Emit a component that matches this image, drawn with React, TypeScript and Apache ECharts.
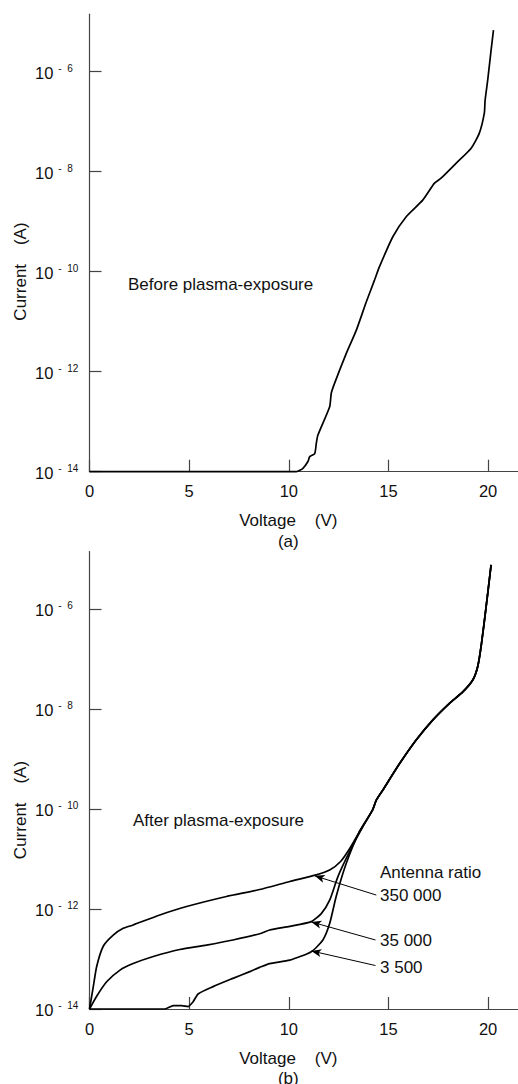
import React, { useEffect, useRef } from 'react';
import * as echarts from 'echarts';

const FONT = '"Liberation Sans", Arial, sans-serif';

// tick positions
const xTicks = [0, 5, 10, 15, 20];
const yTickExponents = [-14, -12, -10, -8, -6];

// (a) Before plasma-exposure : voltage (V) and current (A)
const voltageBefore = [0, 10.38, 10.71, 10.96, 11.05, 11.3, 11.38, 11.46, 12.05, 12.13, 12.3, 12.88, 13.39, 13.89, 14.3, 14.55, 15.22, 15.89, 16.72, 17.31, 17.64, 18.4, 19.15, 19.56, 19.81, 19.85, 19.98, 20.15, 20.27];
const currentBefore = [1e-14, 1e-14, 1.17e-14, 1.6e-14, 2.0e-14, 2.3e-14, 3.7e-14, 5.4e-14, 2.0e-13, 3.7e-13, 5.9e-13, 2.3e-12, 6.8e-12, 2.5e-11, 6.8e-11, 1.26e-10, 5.0e-10, 1.26e-9, 2.7e-9, 5.9e-9, 7.4e-9, 1.48e-8, 2.95e-8, 5.9e-8, 1.48e-7, 2.7e-7, 6.8e-7, 2.7e-6, 6.8e-6];

// (b) After plasma-exposure : common high-field branch
const voltageCommon = [14.2, 14.39, 14.72, 15.56, 16.39, 17.22, 18.06, 18.73, 19.23, 19.48, 19.65, 19.9, 20.15];
const currentCommon = [9.5e-11, 1.5e-10, 2.4e-10, 8.1e-10, 2.4e-9, 6.0e-9, 1.3e-8, 2.2e-8, 3.8e-8, 7.1e-8, 1.8e-7, 1.1e-6, 7.6e-6];

// antenna ratio 350 000
const voltage350k = [0, 0.19, 0.36, 0.69, 1.19, 1.69, 2.19, 3.53, 4.87, 6.87, 8.54, 10.05, 11.38, 12.05, 12.6, 13.05, 13.55];
const current350k = [1e-14, 2.8e-14, 7.1e-14, 1.8e-13, 3.0e-13, 4.1e-13, 4.8e-13, 7.6e-13, 1.12e-12, 1.78e-12, 2.45e-12, 3.55e-12, 4.8e-12, 6.0e-12, 8.9e-12, 1.6e-11, 3.5e-11];

// antenna ratio 35 000
const voltage35k = [0, 0.36, 0.86, 1.53, 2.19, 3.2, 4.53, 5.87, 7.2, 8.54, 9.04, 10.05, 11.13, 11.63, 12.05, 12.47, 13.05, 13.72];
const current35k = [1e-14, 1.8e-14, 3.5e-14, 6.0e-14, 8.1e-14, 1.12e-13, 1.55e-13, 1.9e-13, 2.4e-13, 3.2e-13, 3.8e-13, 4.5e-13, 5.6e-13, 8.1e-13, 1.5e-12, 4.5e-12, 1.4e-11, 4.5e-11];

// antenna ratio 3 500
const voltage3k5 = [0, 3.78, 4.2, 4.62, 4.95, 5.2, 5.45, 6.2, 7.2, 8.04, 8.54, 9.04, 10.05, 11.13, 11.71, 12.05, 12.38, 12.88, 13.55];
const current3k5 = [1e-14, 1e-14, 1.17e-14, 1.17e-14, 1.12e-14, 1.4e-14, 2.0e-14, 2.8e-14, 4.1e-14, 5.6e-14, 6.8e-14, 8.1e-14, 9.5e-14, 1.4e-13, 2.4e-13, 5.1e-13, 1.8e-12, 8.1e-12, 3.6e-11];

// arrows (label -> curve), voltage and current of both ends
const arrowFromV = [14.39, 14.35, 14.35];
const arrowFromI = [1.9e-12, 2.4e-13, 7.4e-14];
const arrowToV = [11.3, 11.13, 11.13];
const arrowToI = [4.6e-12, 5.5e-13, 1.45e-13];

const toPoints = (v: number[], c: number[]) => v.map((x, i) => [x, Math.log10(c[i])]);

const lineSeries = (name: string, idx: number, v: number[], c: number[], extra: any = {}) => ({
  name,
  type: 'line',
  xAxisIndex: idx,
  yAxisIndex: idx,
  data: toPoints(v, c),
  showSymbol: false,
  symbol: 'none',
  smooth: 0.2,
  clip: false,
  silent: true,
  lineStyle: { color: '#000', width: 1.7 },
  ...extra,
});

const axisColor = '#444';

const makeX = (gridIndex: number) => ({
  gridIndex,
  type: 'value',
  min: 0,
  max: 21.5,
  axisLine: { show: true, onZero: false, lineStyle: { color: axisColor, width: 1.2 } },
  axisTick: { show: true, inside: true, length: 12, customValues: xTicks, lineStyle: { color: axisColor, width: 1.2 } },
  axisLabel: { customValues: xTicks, margin: 11, fontSize: 16.5, fontFamily: FONT, color: '#111' },
  splitLine: { show: false },
});

const makeY = (gridIndex: number) => ({
  gridIndex,
  type: 'value',
  min: -14,
  max: -4.85,
  axisLine: { show: true, onZero: false, lineStyle: { color: axisColor, width: 1.2 } },
  axisTick: { show: true, inside: true, length: 12, customValues: yTickExponents, lineStyle: { color: axisColor, width: 1.2 } },
  axisLabel: {
    customValues: yTickExponents,
    formatter: (v: number) => `{a|10}{b|-  ${Math.round(-v)}}`,
    align: 'left',
    margin: 54.5,
    rich: {
      a: { fontSize: 16.5, fontFamily: FONT, color: '#111', lineHeight: 17, padding: [2, 0, 0, 0] },
      b: { fontSize: 10, fontFamily: FONT, color: '#111', lineHeight: 10, verticalAlign: 'top', padding: [0, 0, 0, 5] },
    },
  },
  splitLine: { show: false },
});

const txt = (text: string, x: number, y: number, align = 'left', extra: any = {}) => ({
  type: 'text',
  x,
  y,
  silent: true,
  ...extra,
  style: { text, font: `17px ${FONT}`, fill: '#111', align, verticalAlign: 'middle' },
});

export default function App() {
  const ref = useRef<HTMLDivElement>(null);
  useEffect(() => {
    if (!ref.current) return;
    const chart = echarts.init(ref.current, null, { renderer: 'svg' });
    const arrowData = arrowFromV.map((v, i) => [
      { coord: [v, Math.log10(arrowFromI[i])], symbol: 'none' },
      { coord: [arrowToV[i], Math.log10(arrowToI[i])], symbol: 'arrow', symbolSize: [6, 10] },
    ]);
    chart.setOption({
      animation: false,
      grid: [
        { left: 89.5, top: 14.2, width: 429, height: 457.5 },
        { left: 89.5, top: 551.5, width: 429, height: 457.5 },
      ],
      xAxis: [makeX(0), makeX(1)],
      yAxis: [makeY(0), makeY(1)],
      series: [
        lineSeries('Before plasma-exposure', 0, voltageBefore, currentBefore),
        lineSeries('350 000', 1, voltage350k.concat(voltageCommon), current350k.concat(currentCommon), {
          markLine: {
            silent: true,
            animation: false,
            label: { show: false },
            lineStyle: { type: 'solid', color: '#000', width: 1 },
            emphasis: { disabled: true },
            data: arrowData,
          },
        }),
        lineSeries('35 000', 1, voltage35k.concat(voltageCommon), current35k.concat(currentCommon)),
        lineSeries('3 500', 1, voltage3k5.concat(voltageCommon), current3k5.concat(currentCommon)),
      ],
      graphic: [
        txt('Voltage    (V)', 288.3, 520, 'center'),
        txt('(a)', 288.3, 541.7, 'center'),
        txt('Current    (A)', 20, 271.5, 'center', { rotation: Math.PI / 2 }),
        txt('Before plasma-exposure', 128, 284.5),
        txt('Voltage    (V)', 288.3, 1058.5, 'center'),
        txt('(b)', 288.3, 1078, 'center'),
        txt('Current    (A)', 20, 810, 'center', { rotation: Math.PI / 2 }),
        txt('After plasma-exposure', 133, 820.7),
        txt('Antenna ratio', 380, 872.7),
        txt('350 000', 380, 895),
        txt('35 000', 380, 940.7),
        txt('3 500', 380, 967.7),
      ],
    });
    return () => chart.dispose();
  }, []);
  return (
    <div
      ref={ref}
      style={{ position: 'absolute', left: 0, top: 0, width: 518, height: 1084, background: '#fff' }}
    />
  );
}
